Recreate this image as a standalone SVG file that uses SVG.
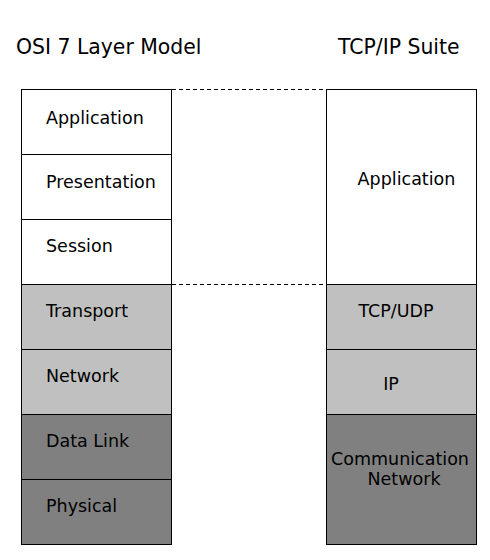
<svg xmlns="http://www.w3.org/2000/svg" width="490" height="560" viewBox="0 0 490 560">
<style>
text{font-family:"DejaVu Sans",Verdana,sans-serif;fill:#000}
.t{font-size:20.4px}
.l{font-size:17.5px}
.b{stroke:#000;stroke-width:1}
.w{fill:#fff}.g{fill:#c0c0c0}.d{fill:#808080}
.dash{stroke:#000;stroke-width:1;stroke-dasharray:4,3;fill:none}
</style>
<rect width="490" height="560" fill="#fff"/>
<text class="t" x="16" y="54">OSI 7 Layer Model</text>
<text class="t" x="338" y="54">TCP/IP Suite</text>
<g id="connectors">
<line class="dash" x1="172" y1="89.5" x2="326" y2="89.5"/>
<line class="dash" x1="172" y1="284.5" x2="326" y2="284.5"/>
</g>
<g id="osi-application"><rect class="b w" x="21.5" y="89.5" width="150" height="65"/><text class="l" x="46" y="124">Application</text></g>
<g id="osi-presentation"><rect class="b w" x="21.5" y="154.5" width="150" height="65"/><text class="l" x="46" y="188">Presentation</text></g>
<g id="osi-session"><rect class="b w" x="21.5" y="219.5" width="150" height="65"/><text class="l" x="46" y="252">Session</text></g>
<g id="osi-transport"><rect class="b g" x="21.5" y="284.5" width="150" height="65"/><text class="l" x="46" y="317">Transport</text></g>
<g id="osi-network"><rect class="b g" x="21.5" y="349.5" width="150" height="65"/><text class="l" x="46" y="382">Network</text></g>
<g id="osi-datalink"><rect class="b d" x="21.5" y="414.5" width="150" height="65"/><text class="l" x="46" y="447">Data Link</text></g>
<g id="osi-physical"><rect class="b d" x="21.5" y="479.5" width="150" height="65"/><text class="l" x="46" y="512">Physical</text></g>
<g id="tcp-application"><rect class="b w" x="326.5" y="89.5" width="150" height="195"/><text class="l" x="406.5" y="185" text-anchor="middle">Application</text></g>
<g id="tcp-tcpudp"><rect class="b g" x="326.5" y="284.5" width="150" height="65"/><text class="l" x="396" y="317" text-anchor="middle">TCP/UDP</text></g>
<g id="tcp-ip"><rect class="b g" x="326.5" y="349.5" width="150" height="65"/><text class="l" x="391" y="390" text-anchor="middle">IP</text></g>
<g id="tcp-network"><rect class="b d" x="326.5" y="414.5" width="150" height="130"/><text class="l" text-anchor="middle"><tspan x="400" y="465">Communication</tspan><tspan x="404" y="485">Network</tspan></text></g>
</svg>
